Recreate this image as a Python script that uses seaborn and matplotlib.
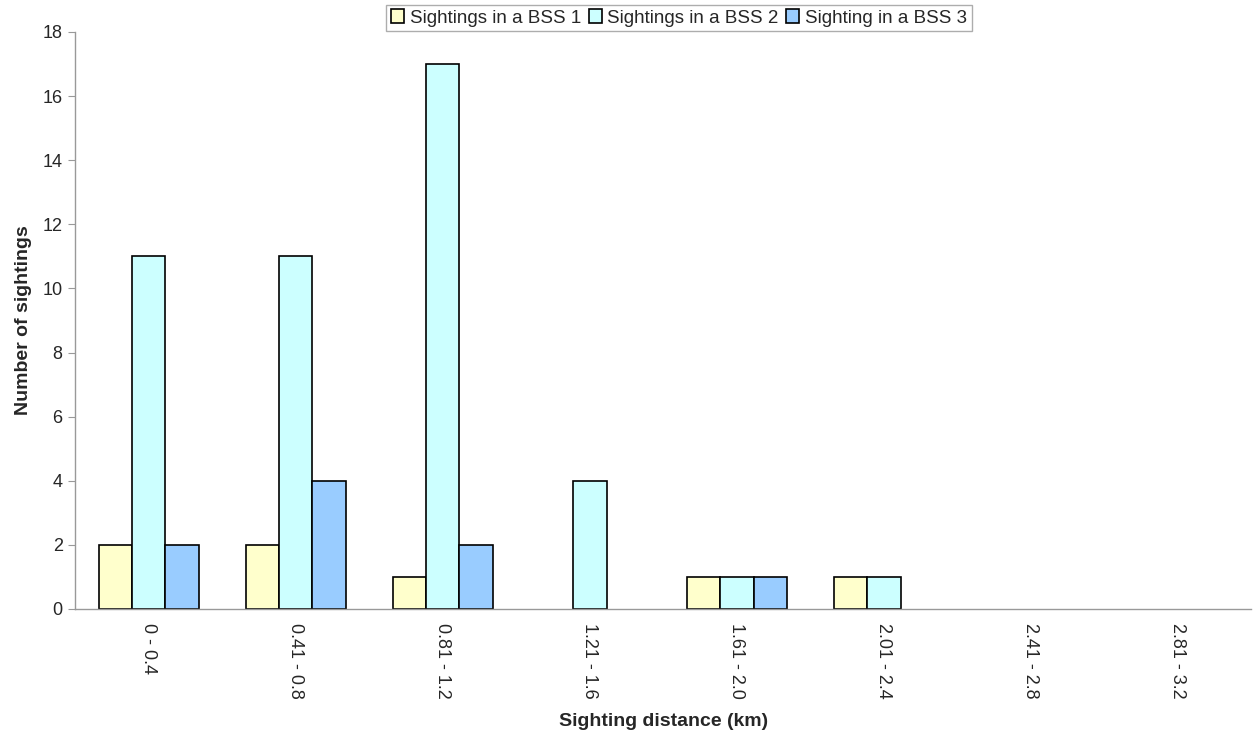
import pandas as pd
import matplotlib.pyplot as plt
from matplotlib.patches import Patch
import seaborn as sns

# Data
distance_bins = ['0 - 0.4', '0.41 - 0.8', '0.81 - 1.2', '1.21 - 1.6',
                 '1.61 - 2.0', '2.01 - 2.4', '2.41 - 2.8', '2.81 - 3.2']
bss1 = [2, 2, 1, 0, 1, 1, 0, 0]
bss2 = [11, 11, 17, 4, 1, 1, 0, 0]
bss3 = [2, 4, 2, 0, 1, 0, 0, 0]
series_names = ['Sightings in a BSS 1', 'Sightings in a BSS 2', 'Sighting in a BSS 3']
colors = ['#FFFFCC', '#CCFFFF', '#99CCFF']

df = pd.DataFrame({'bin': distance_bins * 3,
                   'count': bss1 + bss2 + bss3,
                   'series': [series_names[0]] * 8 + [series_names[1]] * 8 + [series_names[2]] * 8})

sns.set_style('white')
plt.rcParams['font.family'] = ['Liberation Sans', 'DejaVu Sans']

fig = plt.figure(figsize=(12.54, 7.36), dpi=100)
ax = fig.add_axes([0.06, 0.1726, 0.938, 0.784])

sns.barplot(data=df, x='bin', y='count', hue='series', palette=colors,
            edgecolor='black', linewidth=1.2, width=0.68, saturation=1,
            legend=False, ax=ax)

# hide outline of empty bars
for p in ax.patches:
    if p.get_height() == 0:
        p.set_linewidth(0)

ax.set_ylim(0, 18)
ax.set_yticks(range(0, 19, 2))
ax.set_xlim(-0.5, 7.5)
ax.tick_params(axis='y', labelsize=13, length=5, color='#999999', left=True, direction='out', pad=4)
ax.tick_params(axis='x', labelsize=13, length=0, pad=10)
plt.setp(ax.get_xticklabels(), rotation=270)
for s in ['top', 'right']:
    ax.spines[s].set_visible(False)
for s in ['left', 'bottom']:
    ax.spines[s].set_color('#999999')
    ax.spines[s].set_linewidth(1)

ax.set_xlabel('Sighting distance (km)', fontsize=14, fontweight='bold', labelpad=10)
ax.set_ylabel('Number of sightings', fontsize=14, fontweight='bold', labelpad=8)

handles = [Patch(facecolor=c, edgecolor='black', linewidth=1.2) for c in colors]
leg = ax.legend(handles, series_names, loc='center', bbox_to_anchor=(679 / 1254, 1 - 18 / 736),
                bbox_transform=fig.transFigure, ncol=3, fontsize=13.5,
                frameon=True, fancybox=False, handlelength=0.7, handleheight=0.7,
                handletextpad=0.3, columnspacing=0.4, borderpad=0.25)
leg.get_frame().set_edgecolor('#999999')
leg.get_frame().set_linewidth(1)

fig.savefig('out.png', dpi=100)
